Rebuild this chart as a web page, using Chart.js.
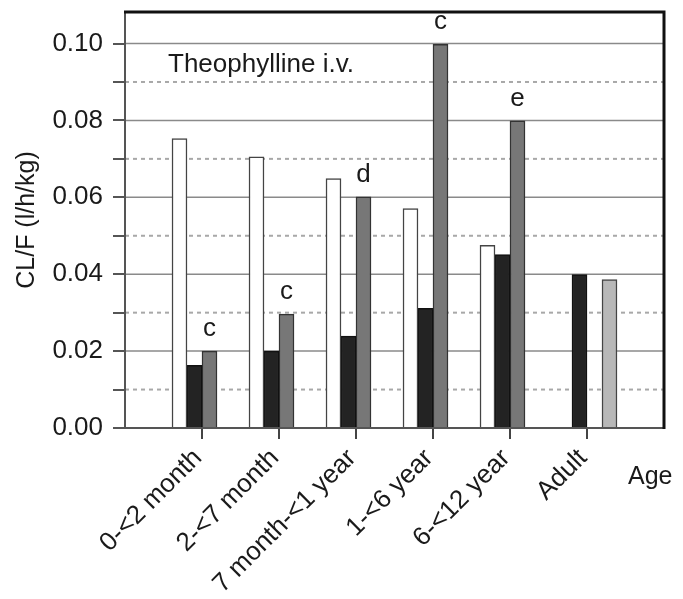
<!DOCTYPE html>
<html>
<head>
    <meta charset="UTF-8" />
    <title>Theophylline i.v. clearance</title>
    <script src="https://cdn.jsdelivr.net/npm/chart.js@4.4.0/dist/chart.umd.min.js"></script>
    <style>
        body { margin: 0; background: #fff; }
        #wrap { width: 683px; height: 599px; position: relative; }
    </style>
</head>
<body>
    <div id="wrap"><canvas id="chart"></canvas></div>

    <script>
        // age groups and CL/F values (l/h/kg)
        const categories = ['0-<2 month', '2-<7 month', '7 month-<1 year', '1-<6 year', '6-<12 year', 'Adult'];
        const whiteValues = [0.0753, 0.0705, 0.0649, 0.0571, 0.0475, null];
        const blackValues = [0.0163, 0.0200, 0.0239, 0.0311, 0.0451, 0.0399];
        const darkValues = [0.0200, 0.0296, 0.0601, 0.0998, 0.0799, null];
        const lightValues = [null, null, null, null, null, 0.0386];
        const markLetters = ['c', 'c', 'd', 'c', 'e', ''];
        const yMax = 0.1082;

        const FONT = '"Liberation Sans", Arial, sans-serif';

        // one empty slot on each side so the groups sit where they do in the figure
        const labels = ['', ...categories, ''];
        const pad = arr => [null, ...arr, null];

        const gridPlugin = {
            id: 'grid',
            beforeDatasetsDraw(chart) {
                const { ctx, chartArea: a, scales: { y } } = chart;
                ctx.save();
                y.ticks.forEach(t => {
                    if (t.value < 1e-9) return;
                    const py = y.getPixelForValue(t.value);
                    const even = Math.round(t.value * 100) % 2 === 0;
                    ctx.beginPath();
                    ctx.strokeStyle = even ? '#8a8a8a' : '#a8a8a8';
                    ctx.lineWidth = even ? 1.5 : 2;
                    ctx.setLineDash(even ? [] : [4, 4]);
                    ctx.moveTo(a.left, py);
                    ctx.lineTo(a.right, py);
                    ctx.stroke();
                });
                ctx.restore();
            },
            afterDatasetsDraw(chart) {
                const { ctx, chartArea: a } = chart;
                ctx.save();
                // frame
                ctx.lineWidth = 2;
                ctx.strokeStyle = '#555';
                ctx.beginPath();
                ctx.moveTo(a.left, a.top);
                ctx.lineTo(a.left, a.bottom);
                ctx.lineTo(a.right, a.bottom);
                ctx.stroke();
                ctx.lineWidth = 3;
                ctx.strokeStyle = '#111';
                ctx.beginPath();
                ctx.moveTo(a.left - 1, a.top);
                ctx.lineTo(a.right, a.top);
                ctx.lineTo(a.right, a.bottom + 1);
                ctx.stroke();

                // significance letters over the dark grey bars
                ctx.fillStyle = '#1a1a1a';
                ctx.font = '26px ' + FONT;
                ctx.textAlign = 'center';
                ctx.textBaseline = 'alphabetic';
                const meta = chart.getDatasetMeta(2);
                markLetters.forEach((letter, i) => {
                    const bar = meta.data[i + 1];
                    if (!letter || !bar || darkValues[i] == null) return;
                    ctx.fillText(letter, bar.x, bar.y - 15);
                });

                ctx.textAlign = 'left';
                ctx.fillText('Theophylline i.v.', 168, 72);
                ctx.font = '25px ' + FONT;
                ctx.fillText('Age', 628, 484);
                ctx.restore();
            }
        };

        const barStyle = (fill, border) => ({
            backgroundColor: fill,
            borderColor: border,
            borderWidth: 1.5,
            barThickness: 15
        });

        new Chart('chart', {
            type: 'bar',
            data: {
                labels: labels,
                datasets: [
                    { data: pad(whiteValues), ...barStyle('#ffffff', '#444') },
                    { data: pad(blackValues), ...barStyle('#232323', '#111') },
                    { data: pad(darkValues), ...barStyle('#777777', '#333') },
                    { data: pad(lightValues), ...barStyle('#b8b8b8', '#444') }
                ]
            },
            plugins: [gridPlugin],
            options: {
                responsive: true,
                maintainAspectRatio: false,
                animation: false,
                layout: { padding: { top: 12, right: 19, left: 0, bottom: 0 } },
                plugins: {
                    legend: { display: false },
                    tooltip: { enabled: false }
                },
                scales: {
                    x: {
                        offset: false,
                        border: { display: false },
                        grid: {
                            offset: false,
                            drawOnChartArea: false,
                            tickLength: 11,
                            lineWidth: 2,
                            color: ctx => (ctx.index === 0 || ctx.index === labels.length - 1) ? 'rgba(0,0,0,0)' : '#444'
                        },
                        ticks: {
                            autoSkip: false,
                            minRotation: 45,
                            maxRotation: 45,
                            padding: 4,
                            labelOffset: -4,
                            color: '#1a1a1a',
                            font: { family: FONT, size: 26 }
                        },
                        afterFit(scale) {
                            scale.height = 171;
                            scale.paddingLeft = 0;
                            scale.paddingRight = 0;
                        }
                    },
                    y: {
                        min: 0,
                        max: yMax,
                        border: { display: false },
                        grid: {
                            drawOnChartArea: false,
                            tickLength: 12,
                            lineWidth: 2,
                            color: '#555'
                        },
                        ticks: {
                            stepSize: 0.01,
                            padding: 10,
                            color: '#1a1a1a',
                            font: { family: FONT, size: 26 },
                            callback: v => Math.round(v * 100) % 2 === 0 ? v.toFixed(2) : ''
                        },
                        afterBuildTicks(scale) {
                            scale.ticks = scale.ticks.filter(t => t.value <= 0.1001);
                        },
                        title: {
                            display: true,
                            text: 'CL/F (l/h/kg)',
                            color: '#1a1a1a',
                            font: { family: FONT, size: 25 },
                            padding: { top: 12, bottom: 4 }
                        },
                        afterFit(scale) {
                            scale.width = 125;
                            scale.paddingTop = 0;
                            scale.paddingBottom = 0;
                        }
                    }
                }
            }
        });
    </script>
</body>
</html>
